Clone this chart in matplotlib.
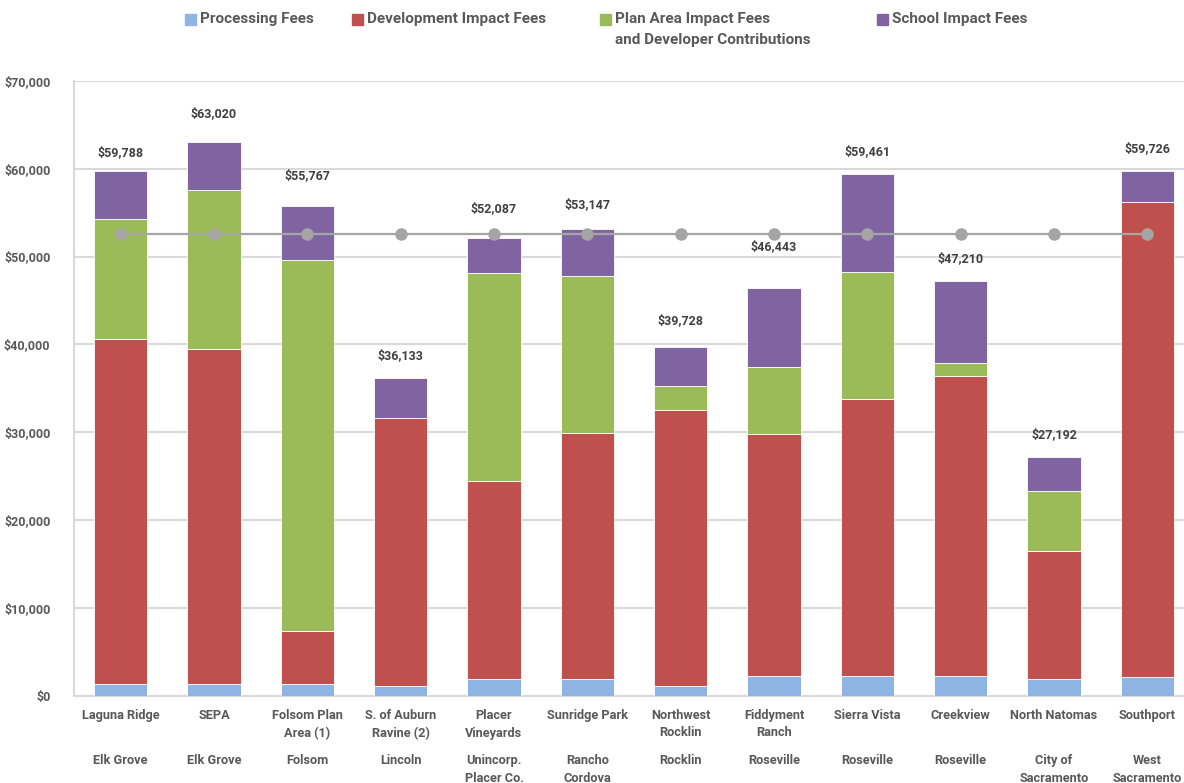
import matplotlib
matplotlib.use("Agg")
import matplotlib.pyplot as plt
from matplotlib.patches import Rectangle
from matplotlib.ticker import FuncFormatter, MultipleLocator
import numpy as np

plt.rcParams['font.family'] = ['Roboto', 'DejaVu Sans']

# --- data ---------------------------------------------------------------
projects = ["Laguna Ridge", "SEPA", "Folsom Plan\nArea (1)", "S. of Auburn\nRavine (2)",
            "Placer\nVineyards", "Sunridge Park", "Northwest\nRocklin", "Fiddyment\nRanch",
            "Sierra Vista", "Creekview", "North Natomas", "Southport"]
cities = ["Elk Grove", "Elk Grove", "Folsom", "Lincoln", "Unincorp.\nPlacer Co.",
          "Rancho\nCordova", "Rocklin", "Roseville", "Roseville", "Roseville",
          "City of\nSacramento", "West\nSacramento"]

processing = [1270, 1270, 1270, 1110, 1880, 1880, 1080, 2180, 2180, 2180, 1880, 2100]
development = [39330, 38230, 6030, 30540, 22560, 28020, 31400, 27570, 31550, 34200, 14590, 54080]
plan_area = [13700, 18100, 42300, 0, 23710, 17940, 2730, 7620, 14560, 1450, 6800, 0]
school = [5488, 5420, 6167, 4483, 3937, 5307, 4518, 9073, 11171, 9380, 3922, 3546]
totals = [59788, 63020, 55767, 36133, 52087, 53147, 39728, 46443, 59461, 47210, 27192, 59726]
average_fee = 52600

series_names = ["Processing Fees", "Development Impact Fees",
                "Plan Area Impact Fees\nand Developer Contributions", "School Impact Fees"]
series_colors = ["#8EB4E3", "#C0504D", "#9BBB59", "#8064A2"]

# vertical offsets of the total labels above each bar (points)
label_offsets = [8.6, 16, 17, 11.5, 17, 13, 14.4, 25, 11, 11.5, 11.5, 11.5]

# --- figure -------------------------------------------------------------
W, H = 1184, 783
fig = plt.figure(figsize=(W / 100, H / 100), dpi=100)
ax_left, ax_right = 74, 1194
ax_bottom, ax_top = 695.5, 81
ax = fig.add_axes([ax_left / W, 1 - ax_bottom / H,
                   (ax_right - ax_left) / W, (ax_bottom - ax_top) / H])

x = np.arange(len(projects))
bottom = np.zeros(len(projects))
for vals, color in zip([processing, development, plan_area, school], series_colors):
    ax.bar(x, vals, width=0.57, bottom=bottom, color=color,
           edgecolor="white", linewidth=0.6, zorder=3)
    bottom += np.array(vals)

ax.plot(x, [average_fee] * len(x), color="#A5A5A5", lw=1.6, marker="o",
        markersize=9, markeredgewidth=0, zorder=4)

text_color = "#595959"
for xi, tot, off in zip(x, totals, label_offsets):
    ax.annotate(f"${tot:,}", (xi, tot), xytext=(0, off), textcoords="offset points",
                ha="center", va="bottom", fontsize=9, fontweight="bold", color="#404040")

ax.set_xlim(-0.5, len(projects) - 0.5)
ax.set_ylim(0, 70000)
ax.yaxis.set_major_locator(MultipleLocator(10000))
ax.yaxis.set_major_formatter(FuncFormatter(lambda v, p: f"${v:,.0f}"))
ax.grid(axis="y", color="#D9D9D9", lw=1.5, zorder=0)
ax.set_axisbelow(True)
for s in ["top", "right"]:
    ax.spines[s].set_visible(False)
for s in ["left", "bottom"]:
    ax.spines[s].set_color("#D9D9D9")
    ax.spines[s].set_linewidth(1.5)
ax.tick_params(axis="y", length=0, pad=17, labelsize=9, labelcolor=text_color)
for lab in ax.get_yticklabels():
    lab.set_fontweight("bold")
ax.set_xticks(x)
ax.set_xticklabels([])
ax.tick_params(axis="x", length=0)

# two rows of category labels
for xi, name, city in zip(x, projects, cities):
    disp = ax.transData.transform((xi, 0))[0] / W
    fig.text(disp, 1 - 709 / H, name, ha="center", va="top", fontsize=9.2,
             fontweight="bold", color=text_color, linespacing=1.45)
    fig.text(disp, 1 - 754 / H, city, ha="center", va="top", fontsize=9.2,
             fontweight="bold", color=text_color, linespacing=1.45)

# legend across the top
legend_pos = [185, 352, 600, 877]
for px, name, color in zip(legend_pos, series_names, series_colors):
    fig.add_artist(Rectangle((px / W, 1 - 25 / H), 11 / W, 11 / H,
                             transform=fig.transFigure, color=color))
    fig.text((px + 15) / W, 1 - 12 / H, name, ha="left", va="top", fontsize=11,
             fontweight="bold", color=text_color, linespacing=1.6)

fig.savefig("out.png", dpi=100)
